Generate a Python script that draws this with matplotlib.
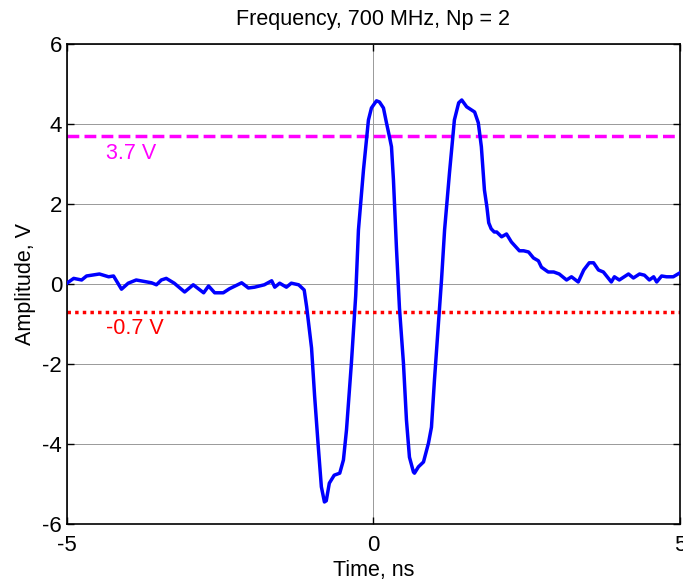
import matplotlib
matplotlib.use("Agg")
import matplotlib.pyplot as plt
import numpy as np

plt.rcParams['font.family'] = ['Liberation Sans', 'DejaVu Sans']
plt.rcParams['axes.unicode_minus'] = False

time_ns = [-5.00, -4.89, -4.76, -4.68, -4.47, -4.32, -4.24, -4.11, -4.00, -3.87,
           -3.62, -3.54, -3.46, -3.38, -3.25, -3.08, -2.94, -2.77, -2.69, -2.59,
           -2.45, -2.35, -2.15, -2.04, -1.94, -1.78, -1.66, -1.61, -1.53, -1.42,
           -1.34, -1.22, -1.13, -1.09, -1.01, -0.96, -0.90, -0.85, -0.80, -0.77,
           -0.72, -0.64, -0.55, -0.49, -0.44, -0.36, -0.29, -0.245, -0.163, -0.082,
           -0.033, 0.049, 0.098, 0.163, 0.212, 0.261, 0.294, 0.326, 0.375, 0.424,
           0.489, 0.538, 0.587, 0.652, 0.669, 0.734, 0.816, 0.897, 0.946, 0.995,
           1.06, 1.11, 1.16, 1.24, 1.32, 1.39, 1.44, 1.52, 1.60, 1.65,
           1.71, 1.76, 1.81, 1.85, 1.88, 1.92, 1.97, 2.01, 2.09, 2.17,
           2.25, 2.38, 2.45, 2.53, 2.61, 2.69, 2.74, 2.85, 2.94, 3.03,
           3.15, 3.23, 3.34, 3.43, 3.52, 3.59, 3.67, 3.75, 3.88, 3.93,
           4.01, 4.16, 4.24, 4.34, 4.42, 4.50, 4.57, 4.62, 4.70, 4.78,
           4.89, 5.00]
amplitude_v = [0.02, 0.14, 0.10, 0.20, 0.25, 0.18, 0.20, -0.13, 0.02, 0.10,
               0.03, -0.02, 0.10, 0.14, 0.02, -0.20, -0.02, -0.22, -0.05, -0.22,
               -0.22, -0.12, 0.03, -0.10, -0.08, -0.02, 0.08, -0.08, 0.02, -0.08,
               0.02, -0.02, -0.15, -0.57, -1.60, -2.80, -4.07, -5.07, -5.45, -5.42,
               -4.98, -4.78, -4.73, -4.40, -3.65, -1.98, -0.30, 1.35, 2.85, 4.10,
               4.40, 4.58, 4.55, 4.40, 4.03, 3.68, 3.43, 2.60, 0.90, -0.60,
               -1.98, -3.40, -4.33, -4.70, -4.73, -4.57, -4.45, -3.98, -3.58, -2.40,
               -0.98, 0.10, 1.35, 2.78, 4.10, 4.53, 4.60, 4.43, 4.35, 4.30,
               4.03, 3.43, 2.35, 1.93, 1.53, 1.38, 1.30, 1.30, 1.18, 1.25,
               1.05, 0.83, 0.83, 0.80, 0.65, 0.58, 0.42, 0.30, 0.30, 0.25,
               0.10, 0.18, 0.05, 0.35, 0.53, 0.53, 0.35, 0.30, 0.05, 0.18,
               0.10, 0.25, 0.15, 0.25, 0.22, 0.10, 0.18, 0.05, 0.20, 0.18,
               0.18, 0.28]

upper_level = 3.7
lower_level = -0.7
x_ticks = [-5, 0, 5]
y_ticks = [-6, -4, -2, 0, 2, 4, 6]

fig = plt.figure(figsize=(6.83, 5.82), dpi=100)
ax = fig.add_axes([0.098, 0.0997, 0.8976, 0.8247])

ax.plot(time_ns, amplitude_v, color='#0000ff', linewidth=2.5, zorder=3)
ax.axhline(upper_level, color='#ff00ff', linewidth=2.5, linestyle=(0, (3.4, 1.5)), zorder=2)
ax.axhline(lower_level, color='#ff0000', linewidth=2.5, linestyle=(0, (1, 1.2)), zorder=2)

ax.text(-4.37, 3.12, '3.7 V', color='#ff00ff', fontsize=15.5, va='baseline', ha='left')
ax.text(-4.37, -1.25, '-0.7 V', color='#ff0000', fontsize=15.5, va='baseline', ha='left')

ax.set_xlim(-5, 5)
ax.set_ylim(-6, 6)
ax.set_xticks(x_ticks)
ax.set_yticks(y_ticks)
ax.grid(True, color='0.6', linewidth=0.7, linestyle='-')
ax.set_axisbelow(True)
ax.tick_params(direction='in', top=True, right=True, length=5, width=1, labelsize=16)
ax.tick_params(axis='x', pad=8)
ax.tick_params(axis='y', pad=3.5)
for s in ax.spines.values():
    s.set_linewidth(1.2)

ax.set_title('Frequency, 700 MHz, Np = 2', fontsize=15.5, pad=13.5)
ax.set_xlabel('Time, ns', fontsize=15.5, labelpad=3)
ax.set_ylabel('Amplitude, V', fontsize=15.5, labelpad=4.5)

fig.savefig('out.png', dpi=100)
